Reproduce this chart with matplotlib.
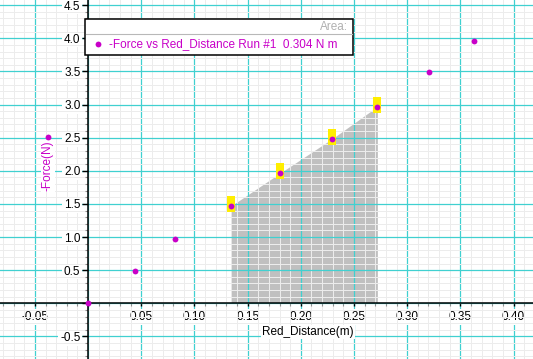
import matplotlib
matplotlib.use('Agg')
import matplotlib.pyplot as plt
from matplotlib.ticker import MultipleLocator, FuncFormatter
from matplotlib.patches import Rectangle
from matplotlib.lines import Line2D

plt.rcParams['font.family'] = ['Liberation Sans', 'DejaVu Sans']

# Logger Pro style run: -Force vs Red_Distance
red_distance = [-0.0373, 0.0, 0.0445, 0.082, 0.1345, 0.180, 0.2296, 0.272, 0.3208, 0.3631]
neg_force = [2.51, 0.0, 0.49, 0.975, 1.47, 1.96, 2.485, 2.97, 3.495, 3.955]
# points selected for the area integral
sel_lo, sel_hi = 4, 7
area_text = '0.304 N m'

magenta = '#c800c8'
cyan = '#40d0d0'
fs = 8.5

fig = plt.figure(figsize=(5.33, 3.59), dpi=100)
ax = fig.add_axes([0, 0, 1, 1])
ax.set_xlim(-0.0828, 0.4183)
ax.set_ylim(-0.841, 4.578)

# axes cross at the origin
ax.spines['left'].set_position(('data', 0))
ax.spines['bottom'].set_position(('data', 0))
ax.spines['top'].set_visible(False)
ax.spines['right'].set_visible(False)
for s in ('left', 'bottom'):
    ax.spines[s].set_linewidth(1.1)
    ax.spines[s].set_zorder(3)

ax.xaxis.set_major_locator(MultipleLocator(0.05))
ax.xaxis.set_minor_locator(MultipleLocator(0.01))
ax.yaxis.set_major_locator(MultipleLocator(0.5))
ax.yaxis.set_minor_locator(MultipleLocator(0.1))


def fmt(v, pos):
    if abs(v) < 1e-9:
        return ''
    return '%.2f' % v


def fmty(v, pos):
    if abs(v) < 1e-9:
        return ''
    return '%.1f' % v


ax.xaxis.set_major_formatter(FuncFormatter(fmt))
ax.yaxis.set_major_formatter(FuncFormatter(fmty))
ax.tick_params(axis='both', which='major', labelsize=fs, length=4, width=1,
               direction='out', colors='black')
ax.tick_params(axis='both', which='minor', length=2.5, width=0.8, direction='out',
               color='#909090')
ax.tick_params(axis='x', which='major', length=2.5, pad=3)
ax.tick_params(axis='y', pad=1.5)
for lab in ax.get_xticklabels() + ax.get_yticklabels():
    lab.set_bbox(dict(facecolor='white', edgecolor='none', pad=1.2))

# grid
ax.set_axisbelow(True)
ax.grid(which='minor', color='#ececec', linewidth=0.72)
ax.grid(which='major', color=cyan, linewidth=0.9)

# shaded area under selected points
xs = red_distance[sel_lo:sel_hi + 1]
ys = neg_force[sel_lo:sel_hi + 1]
ax.fill_between(xs, 0, ys, color='#c0c0c0', linewidth=0, zorder=0.1)

# yellow selection markers
rect = [(-0.45, -1), (0.45, -1), (0.45, 1), (-0.45, 1), (-0.45, -1)]
ax.plot(xs, [y + 0.03 for y in ys], linestyle='none', marker=rect, markersize=11.5,
        color='#ffee00', markeredgewidth=0, zorder=4)

ax.plot(red_distance, neg_force, linestyle='none', marker='o', markersize=4.2,
        color=magenta, markeredgewidth=0, zorder=5)

# axis labels
ax.text(308 / 533, 1 - 332 / 359, 'Red_Distance(m)', transform=ax.transAxes,
        ha='center', va='center', fontsize=fs, color='black',
        bbox=dict(facecolor='white', edgecolor='none', pad=0.5))
ax.text(48 / 533, 1 - 166 / 359, '-Force(N)', transform=ax.transAxes, rotation=90,
        ha='center', va='center', fontsize=fs, color=magenta,
        bbox=dict(facecolor='white', edgecolor='none', pad=0.5))

# legend box
W, H = 533.0, 359.0
box = Rectangle((85 / W, 1 - 55 / H), (353 - 85) / W, (55 - 19) / H, transform=fig.transFigure,
                facecolor='white', edgecolor='black', linewidth=1.1, zorder=10)
fig.add_artist(box)
fig.add_artist(Line2D([86 / W, 352 / W], [1 - 34 / H, 1 - 34 / H], transform=fig.transFigure,
                      color='#b8b8b8', linewidth=0.8, zorder=11))
fig.text(348 / W, 1 - 27 / H, 'Area:', ha='right', va='center', fontsize=fs,
         color='#b0b0b0', zorder=12)
fig.add_artist(Line2D([98 / W], [1 - 44 / H], transform=fig.transFigure, marker='o',
                      markersize=4.2, color=magenta, markeredgewidth=0, zorder=12))
fig.text(109 / W, 1 - 44 / H, '-Force vs Red_Distance Run #1  ' + area_text, ha='left',
         va='center', fontsize=fs, color=magenta, zorder=12)

fig.savefig('out.png', dpi=100)
